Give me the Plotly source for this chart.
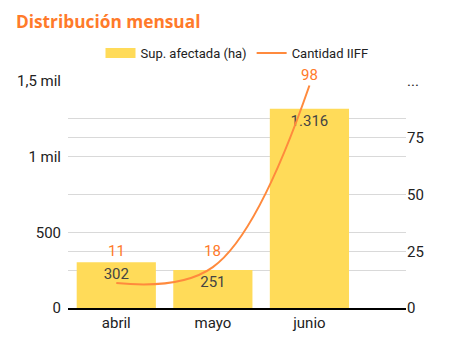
import plotly.graph_objects as go

months = ["abril", "mayo", "junio"]
sup_ha = [302, 251, 1316]
cantidad = [11, 18, 98]
left_ticks = [0, 250, 500, 750, 1000, 1250, 1500]
left_labels = ["0", "", "500", "", "1 mil", "", "1,5 mil"]
right_ticks = [0, 25, 50, 75, 100]
right_labels = ["0", "25", "50", "75", "..."]

ORANGE = "#FF7A2A"
YELLOW = "#FFDB59"
FONT = "Roboto"

fig = go.Figure()
# legend swatch for bars (wide rectangle like the reference)
fig.add_trace(go.Scatter(
    x=[months[0]], y=[None], name="Sup. afectada (ha)", mode="lines",
    line=dict(color=YELLOW, width=12), yaxis="y", hoverinfo="skip",
))
fig.add_trace(go.Bar(
    x=months, y=sup_ha, name="Sup. afectada (ha)", showlegend=False,
    marker=dict(color=YELLOW, line=dict(width=0)),
    width=0.82,
    text=[f"{v:,}".replace(",", ".") for v in sup_ha],
    textposition="inside", insidetextanchor="end",
    textfont=dict(color="#444444", size=15, family=FONT),
    yaxis="y",
))
fig.add_trace(go.Scatter(
    x=months, y=cantidad, name="Cantidad IIFF", mode="lines",
    line=dict(color="#FF8A3D", width=2, shape="spline", smoothing=1.1),
    yaxis="y2",
))

shifts = [32, 16, 11]
for m, v, s in zip(months, cantidad, shifts):
    fig.add_annotation(x=m, y=v, yref="y2", text=str(v), showarrow=False,
                       yshift=s, font=dict(color=ORANGE, size=15, family=FONT))

fig.update_layout(
    width=442, height=347,
    margin=dict(l=60, r=44, t=73, b=47, autoexpand=False),
    paper_bgcolor="white", plot_bgcolor="white",
    separators=",.",
    title=dict(text="<b>Distribución mensual</b>", x=0.018, xanchor="left",
               y=0.96, yanchor="middle",
               font=dict(family="Open Sans", size=17.3, color=ORANGE)),
    legend=dict(orientation="h", x=0.5, xanchor="center", y=1.123, yanchor="middle",
                xref="paper", font=dict(family=FONT, size=13, color="#222222"),
                itemwidth=30, traceorder="normal", bgcolor="rgba(0,0,0,0)"),
    xaxis=dict(type="category", categoryorder="array", categoryarray=months,
               range=[-0.5, 3.0], showgrid=False, showline=True, linecolor="#000000",
               linewidth=1.5, ticks="", tickfont=dict(family=FONT, size=15, color="#222222")),
    yaxis=dict(range=[0, 1500], tickvals=left_ticks, ticktext=left_labels,
               showgrid=True, gridcolor="#D9D9D9", gridwidth=1, zeroline=False,
               tickfont=dict(family=FONT, size=15, color="#222222"), ticks="",
               ticklabelstandoff=6),
    yaxis2=dict(range=[0, 100], tickvals=right_ticks, ticktext=right_labels,
                overlaying="y", side="right", showgrid=True, gridcolor="#D9D9D9",
                gridwidth=1, zeroline=False,
                tickfont=dict(family=FONT, size=15, color="#222222"), ticks=""),
)

fig.write_html("out.html")
